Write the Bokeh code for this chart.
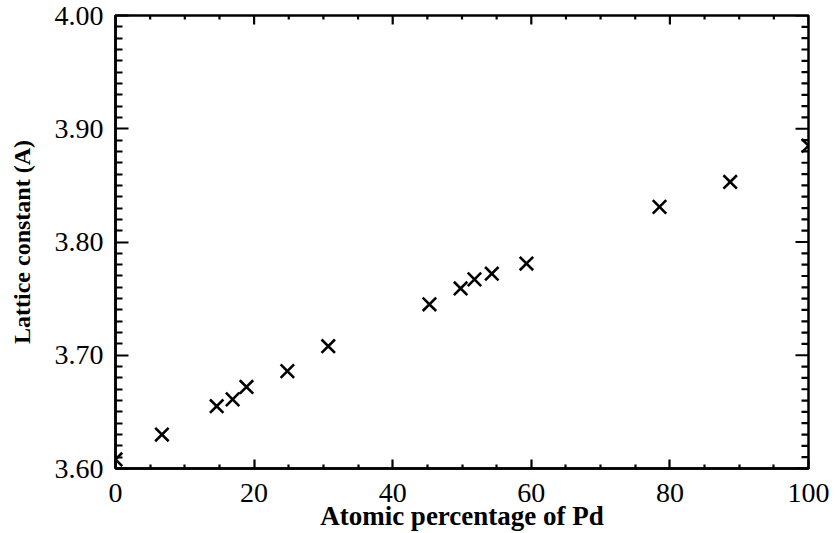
import math
from bokeh.plotting import figure
from bokeh.models import Range1d, FixedTicker, ColumnDataSource, NumeralTickFormatter
from bokeh.embed import file_html
from bokeh.resources import INLINE

# Data: atomic percentage of Pd vs lattice constant (A)
pd_percent = [0.0, 6.7, 14.6, 16.9, 18.9, 24.8, 30.7, 45.3, 49.8, 51.8, 54.3, 59.3, 78.5, 88.7, 100.0]
lattice_const = [3.608, 3.630, 3.655, 3.661, 3.672, 3.686, 3.708, 3.745, 3.759, 3.767, 3.772, 3.781, 3.831, 3.853, 3.885]

x_ticks = [0, 20, 40, 60, 80, 100]
y_ticks = [3.60, 3.70, 3.80, 3.90, 4.00]
x_minor = [v * 5 for v in range(0, 21) if v % 4 != 0]
y_minor = [round(3.60 + v * 0.01, 2) for v in range(0, 41) if v % 10 != 0]

X0, X1 = 0, 100
Y0, Y1 = 3.60, 4.00
FONT = "Liberation Serif"

p = figure(width=835, height=533, output_backend="svg", toolbar_location=None,
           x_range=Range1d(X0, X1), y_range=Range1d(Y0, Y1),
           min_border_left=115, min_border_right=27, min_border_top=15, min_border_bottom=64,
           x_axis_label="Atomic percentage of Pd", y_axis_label="Lattice constant (A)")
p.grid.visible = False
p.background_fill_color = "white"
p.border_fill_color = "white"
p.outline_line_color = "black"
p.outline_line_width = 2.5

src = ColumnDataSource(dict(x=pd_percent, y=lattice_const))
p.scatter("x", "y", source=src, marker="x", size=19, line_color="black", line_width=2.6)

xa = p.xaxis[0]
ya = p.yaxis[0]
xa.ticker = FixedTicker(ticks=x_ticks, minor_ticks=x_minor)
ya.ticker = FixedTicker(ticks=y_ticks, minor_ticks=y_minor)
ya.formatter = NumeralTickFormatter(format="0.00")

def style(ax, major_in, minor_in, label_px):
    ax.major_tick_in = major_in
    ax.major_tick_out = 0
    ax.minor_tick_in = minor_in
    ax.minor_tick_out = 0
    ax.major_tick_line_color = "black"
    ax.minor_tick_line_color = "black"
    ax.major_tick_line_width = 2.2
    ax.minor_tick_line_width = 2.2
    ax.axis_line_width = 2.5
    ax.axis_line_color = "black"
    ax.major_label_text_font = FONT
    ax.major_label_text_font_size = "28px"
    ax.major_label_text_color = "black"
    ax.axis_label_text_font = FONT
    ax.axis_label_text_font_size = label_px
    ax.axis_label_text_font_style = "bold"
    ax.axis_label_text_color = "black"

style(xa, 9, 4, "27px")
style(ya, 13, 7, "24px")
xa.major_label_standoff = 15
xa.axis_label_standoff = -4
ya.major_label_standoff = 12
ya.axis_label_standoff = 17

# inward ticks on the top and right edges
def ray_ticks(xs, ys, length, angle):
    p.ray(x=xs, y=ys, length=length, length_units="screen", angle=angle,
          line_color="black", line_width=2.2)

ray_ticks(x_ticks, [Y1] * len(x_ticks), 9, -math.pi / 2)
ray_ticks(x_minor, [Y1] * len(x_minor), 4, -math.pi / 2)
ray_ticks([X1] * len(y_ticks), y_ticks, 13, math.pi)
ray_ticks([X1] * len(y_minor), y_minor, 7, math.pi)

open("out.html", "w").write(file_html(p, INLINE))
